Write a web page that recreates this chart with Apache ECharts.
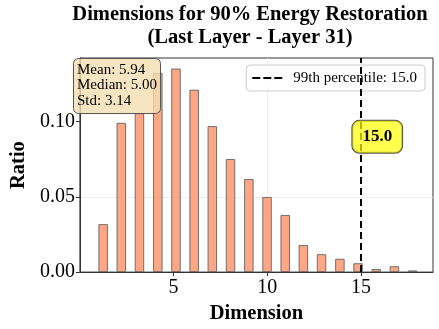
<!DOCTYPE html>
<html>
<head>
<meta charset="utf-8">
<script src="https://cdn.jsdelivr.net/npm/echarts@6/dist/echarts.min.js"></script>
<style>
  html, body { margin: 0; padding: 0; background: #fff; }
  #chart { width: 439px; height: 329px; }
</style>
</head>
<body>
<div id="chart"></div>
<script>
// 直方图数据
const binCenters = [1.24, 2.21, 3.18, 4.16, 5.13, 6.10, 7.07, 8.04, 9.02, 9.99,
  10.96, 11.93, 12.90, 13.88, 14.85, 15.82, 16.79, 17.76];
const ratios = [0.0319, 0.0993, 0.1057, 0.1325, 0.1354, 0.1213, 0.0971, 0.0752, 0.0619, 0.0500,
  0.0380, 0.0180, 0.0119, 0.0089, 0.0059, 0.0020, 0.0039, 0.0011];
const xTicks = [5, 10, 15];
const yTicks = [0, 0.05, 0.10];
const p99 = 15.0;
const statLines = ['Mean: 5.94', 'Median: 5.00', 'Std: 3.14'];
const titleLines = ['Dimensions for 90% Energy Restoration', '(Last Layer - Layer 31)'];

const serif = '"Liberation Serif", "DejaVu Serif", serif';
const p99Name = '99th percentile: ' + p99.toFixed(1);

const chart = echarts.init(document.getElementById('chart'), null, { renderer: 'canvas' });

const barData = binCenters.map((x, i) => [x, ratios[i]]);

const option = {
  animation: false,
  textStyle: { fontFamily: serif },
  title: [
    {
      text: titleLines.join('\n'),
      left: 250, top: 3,
      textAlign: 'center',
      padding: 0,
      textStyle: { fontFamily: serif, fontSize: 20.5, fontWeight: 'bold', color: '#000', lineHeight: 23 }
    },
    {
      text: statLines.join('\n'),
      left: 73, top: 58,
      padding: [4, 4, 5, 4],
      backgroundColor: 'rgba(245,222,179,0.8)',
      borderColor: '#555',
      borderWidth: 1,
      borderRadius: 5,
      textStyle: { fontFamily: serif, fontSize: 15, fontWeight: 'normal', color: '#000', lineHeight: 15.5 }
    }
  ],
  legend: {
    data: [{ name: p99Name, icon: 'path://M0,0h8v2h-8z M11,0h8v2h-8z M22,0h8v2h-8z' }],
    right: 14, top: 65,
    padding: [5, 8, 5, 6],
    itemWidth: 30, itemHeight: 2,
    itemStyle: { color: '#000' },
    backgroundColor: 'rgba(255,255,255,0.8)',
    borderColor: '#ccc', borderWidth: 1, borderRadius: 4,
    textStyle: { fontFamily: serif, fontSize: 15, color: '#000', lineHeight: 16, padding: [0, 0, 0, 6] }
  },
  grid: {
    left: 67, right: 6, top: 58, bottom: 53,
    show: true, borderColor: '#333', borderWidth: 1
  },
  xAxis: {
    type: 'value',
    min: 0, max: 18.85, interval: 5,
    name: 'Dimension',
    nameLocation: 'middle',
    nameGap: 25,
    nameTextStyle: { fontFamily: serif, fontSize: 20.5, fontWeight: 'bold', color: '#000' },
    axisLine: { show: true, lineStyle: { color: '#333', width: 1 } },
    axisTick: { show: true, inside: false, length: 4, customValues: xTicks, lineStyle: { color: '#333' } },
    axisLabel: { customValues: xTicks, margin: 6, fontFamily: serif, fontSize: 20, color: '#000' },
    splitLine: { show: true, showMinLine: false, showMaxLine: false, lineStyle: { color: '#e8e8e8', width: 0.8 } }
  },
  yAxis: {
    type: 'value',
    min: 0, max: 0.1424, interval: 0.05,
    name: 'Ratio',
    nameLocation: 'middle',
    nameGap: 42,
    nameTextStyle: { fontFamily: serif, fontSize: 20.5, fontWeight: 'bold', color: '#000' },
    axisLine: { show: true, lineStyle: { color: '#333', width: 1 } },
    axisTick: { show: true, inside: false, length: 4, customValues: yTicks, lineStyle: { color: '#333' } },
    axisLabel: {
      customValues: yTicks, margin: 5, fontFamily: serif, fontSize: 20, color: '#000',
      formatter: v => v.toFixed(2)
    },
    splitLine: { show: true, showMinLine: false, showMaxLine: false, lineStyle: { color: '#e8e8e8', width: 0.8 } }
  },
  series: [
    {
      type: 'bar',
      name: 'ratio',
      data: barData,
      barWidth: 9.5,
      itemStyle: { color: '#ffa07a', opacity: 0.92, borderColor: '#666', borderWidth: 1 }
    },
    {
      type: 'line',
      name: p99Name,
      data: [],
      symbol: 'none',
      lineStyle: { color: '#000', width: 2, type: [7, 4] },
      itemStyle: { color: '#000' },
      z: 5,
      markLine: {
        silent: true,
        symbol: ['none', 'none'],
        label: { show: false },
        lineStyle: { color: '#000', width: 2, type: [7, 4] },
        data: [{ xAxis: p99 }]
      },
      markPoint: {
        silent: true,
        symbol: 'rect',
        symbolSize: 1,
        itemStyle: { color: 'rgba(0,0,0,0)' },
        label: {
          show: true,
          position: 'right',
          distance: -9,
          formatter: p99.toFixed(1),
          fontFamily: serif,
          fontSize: 17,
          fontWeight: 'bold',
          color: '#000',
          lineHeight: 20,
          backgroundColor: 'rgba(255,255,0,0.7)',
          borderColor: '#555',
          borderWidth: 1,
          borderRadius: 7,
          padding: [6, 10, 6, 10]
        },
        data: [{ coord: [p99, 0.09] }]
      }
    }
  ]
};

chart.setOption(option);
</script>
</body>
</html>
